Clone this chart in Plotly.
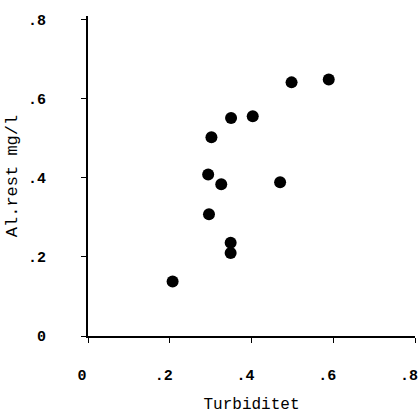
import plotly.graph_objects as go

turbiditet = [0.207, 0.296, 0.349, 0.349, 0.294, 0.326, 0.470, 0.302, 0.350, 0.403, 0.498, 0.589]
al_rest = [0.138, 0.308, 0.236, 0.210, 0.409, 0.384, 0.389, 0.503, 0.552, 0.556, 0.642, 0.649]

x_ticks = [0, 0.2, 0.4, 0.6, 0.8]
x_labels = ["0", ".2", ".4", ".6", ".8"]
y_ticks = [0, 0.2, 0.4, 0.6, 0.8]
y_labels = ["0", ".2", ".4", ".6", ".8"]

FONT = "Liberation Mono"

fig = go.Figure()
fig.add_trace(go.Scatter(
    x=turbiditet, y=al_rest, mode="markers",
    marker=dict(size=12, color="black", line=dict(width=0)),
    showlegend=False, hoverinfo="skip",
))

fig.update_layout(
    width=419, height=414,
    margin=dict(l=88, r=4, t=16, b=78, autoexpand=False),
    paper_bgcolor="white", plot_bgcolor="white",
    font=dict(family=FONT, size=15, color="black"),
)
fig.update_xaxes(
    range=[0, 0.8], tickvals=x_ticks, ticktext=x_labels,
    showgrid=False, zeroline=False, showline=True, linecolor="black", linewidth=1.5,
    ticks="outside", ticklen=5, tickwidth=1, tickcolor="black",
    ticklabelstandoff=19, ticklabelshift=-6, ticklabeloverflow="allow", automargin=False,
    tickfont=dict(family=FONT, size=15, color="black", weight="bold"),
    title=dict(text="Turbiditet", standoff=15, font=dict(family=FONT, size=16, color="black")),
)
fig.update_yaxes(
    range=[0, 0.81], tickvals=y_ticks, ticktext=y_labels,
    showgrid=False, zeroline=False, showline=True, linecolor="black", linewidth=2,
    ticks="outside", ticklen=5, tickwidth=1, tickcolor="black",
    ticklabelstandoff=32, ticklabeloverflow="allow", automargin=False,
    tickfont=dict(family=FONT, size=15, color="black", weight="bold"),
    title=dict(text="Al.rest mg/l", standoff=6, font=dict(family=FONT, size=17, color="black")),
)

fig.write_html("out.html", config={"displayModeBar": False},
               post_script="document.body.style.margin='0';")
